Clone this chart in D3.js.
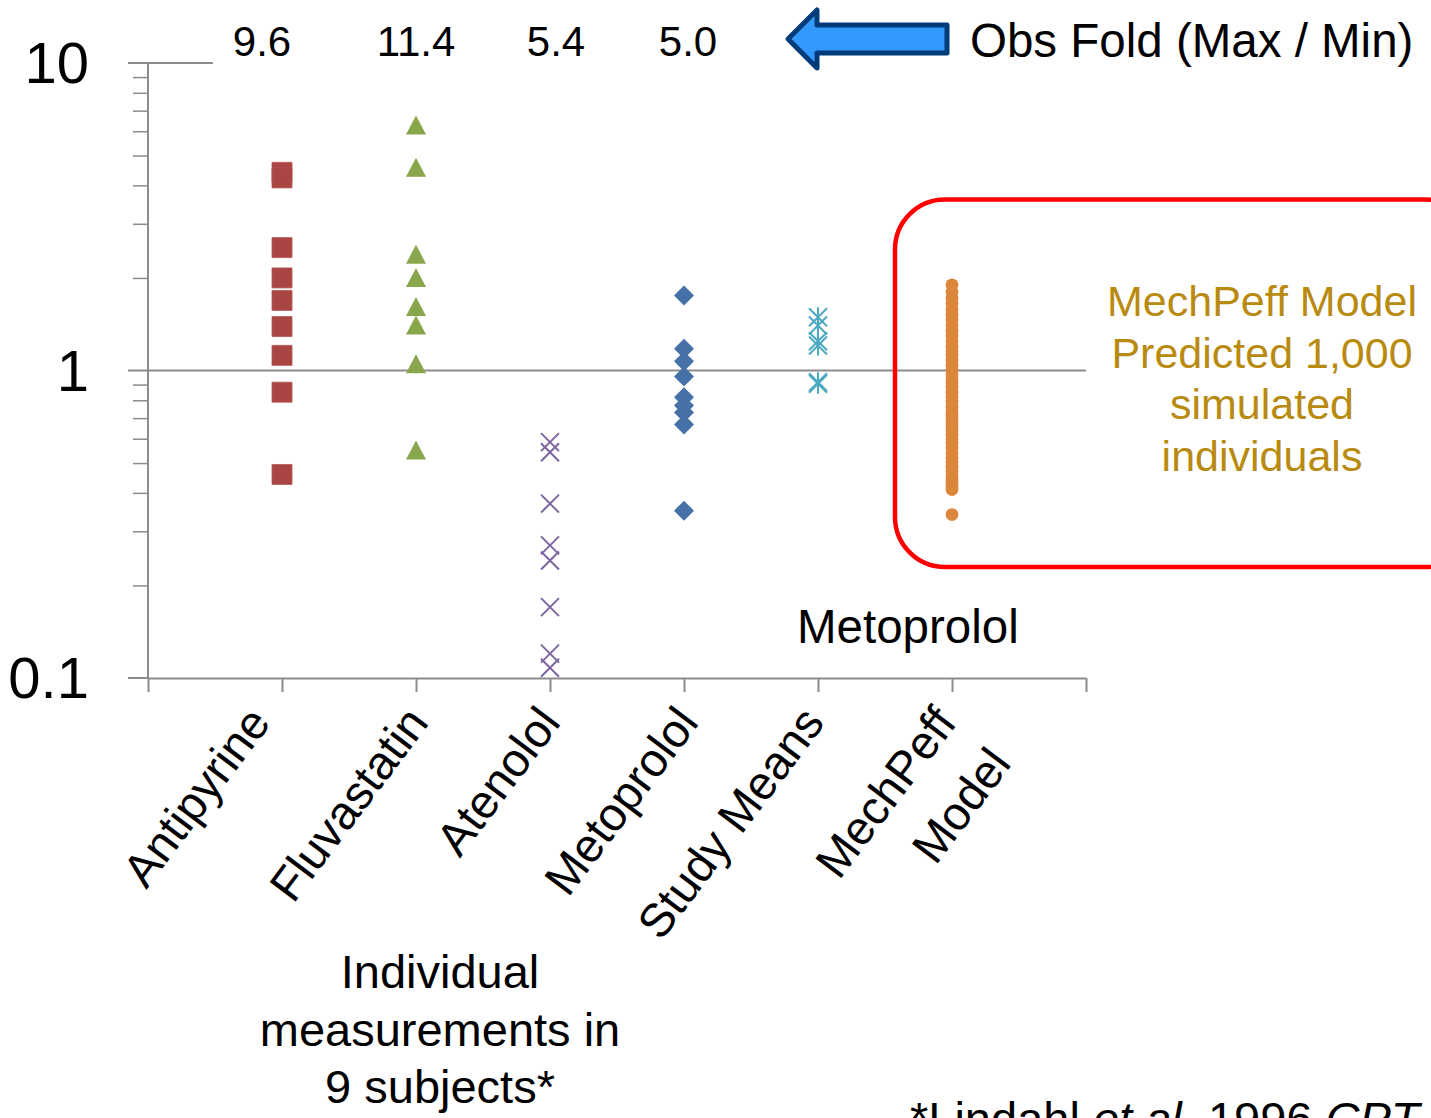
<!DOCTYPE html>
<html>
<head>
<meta charset="utf-8">
<script src="https://cdn.jsdelivr.net/npm/d3@7"></script>
<style>
  html, body { margin: 0; padding: 0; background: #fff; }
  svg { display: block; font-family: "Liberation Sans", Arial, sans-serif; }
</style>
</head>
<body>
<svg id="chart" width="1431" height="1118"></svg>
<script>
// Category order along the x axis (positions 1..6)
const categories = ["Antipyrine", "Fluvastatin", "Atenolol", "Metoprolol", "Study Means", "MechPeff\nModel"];

// Individual measurements (ratio, log scale)
const antipyrine = [4.41, 4.23, 2.51, 2.00, 1.69, 1.39, 1.12, 0.85, 0.459];
const fluvastatin = [6.26, 4.56, 2.38, 2.00, 1.61, 1.40, 1.048, 0.549];
const atenolol = [0.585, 0.542, 0.369, 0.270, 0.241, 0.170, 0.120, 0.108];
const metoprolol = [1.754, 1.177, 1.072, 0.956, 0.819, 0.769, 0.730, 0.667, 0.350];
const studyMeans = [1.49, 1.40, 1.245, 1.206, 0.916, 0.905];
// Simulated individuals from the MechPeff model
const mechPeff = [1.90, 1.80, 1.72, 1.65, 1.58, 1.52, 1.46, 1.40, 1.35, 1.30, 1.25, 1.20,
  1.16, 1.12, 1.08, 1.04, 1.00, 0.97, 0.94, 0.91, 0.88, 0.85, 0.82, 0.79, 0.76, 0.74,
  0.72, 0.70, 0.68, 0.66, 0.64, 0.62, 0.60, 0.58, 0.56, 0.54, 0.52, 0.50, 0.485, 0.47,
  0.455, 0.44, 0.43, 0.42, 0.41, 0.34];

// Observed fold range (max / min) for the four drugs
const foldLabels = ["9.6", "11.4", "5.4", "5.0"];

// Axis tick labels
const yMajor = [0.1, 1, 10];
const yMajorLabels = ["0.1", "1", "10"];

const svg = d3.select("#chart");
const x = d3.scaleLinear().domain([0, 7]).range([148, 1086]);
const y = d3.scaleLog().domain([0.1, 10]).range([678, 63]);

const axisColor = "#8c8c8c";

// Minor ticks (2..9 in each decade)
const minor = [];
[0.1, 1].forEach(d => { for (let k = 2; k <= 9; k++) minor.push(+(d * k).toFixed(2)); });
svg.append("g")
  .attr("transform", `translate(${x(0)},0)`)
  .call(d3.axisLeft(y).tickValues(minor).tickSize(15).tickFormat(""))
  .call(g => g.select(".domain").remove())
  .call(g => g.selectAll("line").attr("stroke", axisColor).attr("stroke-width", 1.5));

// Gridline at 1 and the partial line at 10
svg.append("line").attr("x1", 128).attr("x2", x(7)).attr("y1", y(1)).attr("y2", y(1))
  .attr("stroke", axisColor).attr("stroke-width", 2);
svg.append("line").attr("x1", 128).attr("x2", 213).attr("y1", y(10)).attr("y2", y(10))
  .attr("stroke", axisColor).attr("stroke-width", 2);

// Y axis line
svg.append("line").attr("x1", x(0)).attr("x2", x(0)).attr("y1", y(10)).attr("y2", y(0.1))
  .attr("stroke", axisColor).attr("stroke-width", 2);

// X axis with category ticks
svg.append("g")
  .attr("transform", `translate(0,${y(0.1)})`)
  .call(d3.axisBottom(x).tickValues(d3.range(0, 8)).tickSize(14).tickSizeOuter(0).tickFormat(""))
  .call(g => g.select(".domain").attr("stroke", axisColor).attr("stroke-width", 2))
  .call(g => g.selectAll("line").attr("stroke", axisColor).attr("stroke-width", 2));
svg.append("line").attr("x1", 128).attr("x2", x(0)).attr("y1", y(0.1)).attr("y2", y(0.1))
  .attr("stroke", axisColor).attr("stroke-width", 2);

// Y tick labels
svg.append("g").selectAll("text").data(yMajor).join("text")
  .attr("x", 89).attr("y", d => y(d) + 20)
  .attr("text-anchor", "end").attr("font-size", 58).attr("fill", "#000")
  .text((d, i) => yMajorLabels[i]);

// Rotated category labels, right-aligned just under each tick
const labelShift = [-10, 14, 12, 16, 8, 6];
const xl = svg.append("g");
categories.forEach((c, i) => {
  const ax = x(i + 1) + labelShift[i], ay = 723;
  const t = xl.append("text")
    .attr("transform", `translate(${ax},${ay}) rotate(-53)`)
    .attr("text-anchor", "end").attr("font-size", 47).attr("fill", "#000");
  c.split("\n").forEach((line, j) => {
    t.append("tspan").attr("x", 0).attr("dy", j === 0 ? 0 : "1.45em").text(line);
  });
});

// Marker shapes
const sq = d3.symbol().type(d3.symbolSquare).size(400);
const triPath = "M0,-10L10,9L-10,9Z";
const diaPath = "M0,-10L10,0L0,10L-10,0Z";

svg.append("g").selectAll("path").data(antipyrine).join("path")
  .attr("d", sq).attr("transform", d => `translate(${x(1)},${y(d)})`)
  .attr("fill", "#A94542").attr("stroke", "#B75856").attr("stroke-width", 0.8);

svg.append("g").selectAll("path").data(fluvastatin).join("path")
  .attr("d", triPath).attr("transform", d => `translate(${x(2)},${y(d)})`)
  .attr("fill", "#88A64C");

const cross = 9;
svg.append("g").selectAll("path").data(atenolol).join("path")
  .attr("d", `M${-cross},${-cross}L${cross},${cross}M${-cross},${cross}L${cross},${-cross}`)
  .attr("transform", d => `translate(${x(3)},${y(d)})`)
  .attr("stroke", "#7D65A0").attr("stroke-width", 2).attr("fill", "none");

svg.append("g").selectAll("path").data(metoprolol).join("path")
  .attr("d", diaPath).attr("transform", d => `translate(${x(4)},${y(d)})`)
  .attr("fill", "#4571A8");

const st = 9;
svg.append("g").selectAll("path").data(studyMeans).join("path")
  .attr("d", `M${-st},${-st}L${st},${st}M${-st},${st}L${st},${-st}M0,${-st - 1}L0,${st + 1}`)
  .attr("transform", d => `translate(${x(5)},${y(d)})`)
  .attr("stroke", "#4BA9C2").attr("stroke-width", 2).attr("fill", "none");

svg.append("g").selectAll("circle").data(mechPeff).join("circle")
  .attr("cx", x(6)).attr("cy", d => y(d)).attr("r", 6.4)
  .attr("fill", "#DC863C");

// Highlight box around the model predictions
svg.append("rect").attr("x", 895).attr("y", 199.5).attr("width", 580).attr("height", 367.5)
  .attr("rx", 50).attr("ry", 50)
  .attr("fill", "none").attr("stroke", "#FF0000").attr("stroke-width", 4.5);

const note = svg.append("text").attr("text-anchor", "middle").attr("font-size", 43).attr("fill", "#B98A10");
["MechPeff Model", "Predicted 1,000", "simulated", "individuals"].forEach((l, i) => {
  note.append("tspan").attr("x", 1262).attr("y", 316 + i * 51.5).text(l);
});

svg.append("text").attr("x", 797).attr("y", 643).attr("font-size", 47.5).attr("fill", "#000").text("Metoprolol");

// Fold values across the top
const foldNudge = [-20, 0, 6, 4];
svg.append("g").selectAll("text").data(foldLabels).join("text")
  .attr("x", (d, i) => x(i + 1) + foldNudge[i]).attr("y", 56)
  .attr("text-anchor", "middle").attr("font-size", 42).attr("fill", "#000")
  .text(d => d);

// Arrow pointing at the fold values
const arrowPts = [[788, 39], [817, 10], [817, 25], [947, 25], [947, 53], [817, 53], [817, 68]];
svg.append("path").attr("d", d3.line()(arrowPts) + "Z")
  .attr("fill", "#3399FF").attr("stroke", "#003C7A").attr("stroke-width", 5).attr("stroke-linejoin", "round");
svg.append("text").attr("x", 970).attr("y", 57).attr("font-size", 47.5).attr("fill", "#000")
  .text("Obs Fold (Max / Min)");

// Caption under the observed columns
const cap = svg.append("text").attr("text-anchor", "middle").attr("font-size", 47).attr("fill", "#000");
["Individual", "measurements in", "9 subjects*"].forEach((l, i) => {
  cap.append("tspan").attr("x", 440).attr("y", 988 + i * 57.5).text(l);
});

// Reference
const ref = svg.append("text").attr("x", 910).attr("y", 1135).attr("font-size", 47).attr("fill", "#000");
ref.append("tspan").text("*Lindahl ");
ref.append("tspan").attr("font-style", "italic").text("et al.");
ref.append("tspan").text(" 1996 ");
ref.append("tspan").attr("font-style", "italic").text("CPT");
</script>
</body>
</html>
